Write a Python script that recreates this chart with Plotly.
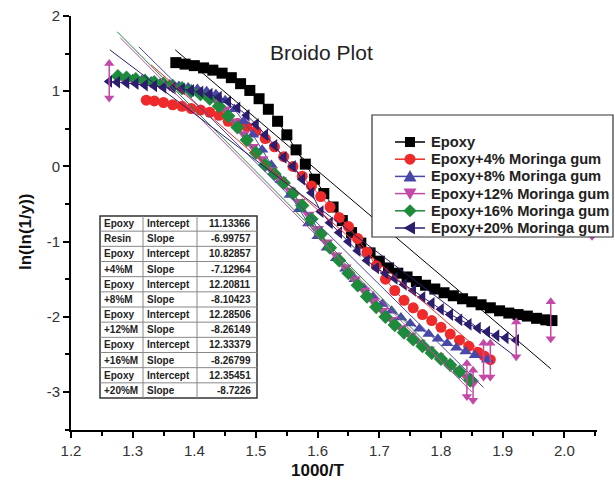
import plotly.graph_objects as go

# ---------------- data ----------------
series_names = ["Epoxy", "Epoxy+4% Moringa gum", "Epoxy+8% Moringa gum",
                "Epoxy+12% Moringa gum", "Epoxy+16% Moringa gum", "Epoxy+20% Moringa gum"]
series_colors = ["#000000", "#ee2a2a", "#4848a8", "#c448a8", "#1e8a3c", "#2c1e6e"]
series_symbols = ["square", "circle", "triangle-up", "triangle-down", "diamond", "triangle-left"]

epoxy_x = [1.370, 1.385, 1.400, 1.415, 1.430, 1.445, 1.460, 1.475, 1.490, 1.505, 1.520, 1.535,
           1.550, 1.565, 1.580, 1.595, 1.610, 1.625, 1.640, 1.655, 1.670, 1.685, 1.700, 1.715,
           1.730, 1.745, 1.760, 1.775, 1.790, 1.805, 1.820, 1.835, 1.850, 1.865, 1.880, 1.895,
           1.910, 1.925, 1.940, 1.955, 1.970, 1.980]
epoxy_y = [1.38, 1.36, 1.34, 1.31, 1.28, 1.24, 1.18, 1.10, 1.01, 0.90, 0.76, 0.60,
           0.42, 0.22, 0.03, -0.17, -0.36, -0.54, -0.72, -0.88, -1.02, -1.15, -1.26, -1.35,
           -1.42, -1.47, -1.53, -1.58, -1.63, -1.68, -1.72, -1.76, -1.80, -1.84, -1.88, -1.92,
           -1.95, -1.97, -1.99, -2.02, -2.04, -2.05]

m4_x = [1.322, 1.335, 1.350, 1.365, 1.380, 1.395, 1.410, 1.425, 1.440, 1.455, 1.470, 1.485,
        1.500, 1.515, 1.530, 1.545, 1.560, 1.575, 1.590, 1.605, 1.620, 1.635, 1.650, 1.665,
        1.680, 1.695, 1.710, 1.725, 1.740, 1.755, 1.770, 1.785, 1.800, 1.815, 1.830, 1.845,
        1.860, 1.870, 1.880]
m4_y = [0.88, 0.87, 0.85, 0.82, 0.80, 0.77, 0.75, 0.72, 0.68, 0.60, 0.57, 0.53,
        0.47, 0.37, 0.26, 0.13, 0.00, -0.13, -0.26, -0.40, -0.54, -0.68, -0.80, -0.96,
        -1.14, -1.32, -1.50, -1.65, -1.78, -1.88, -1.97, -2.05, -2.14, -2.23, -2.31, -2.39,
        -2.47, -2.52, -2.57]

m8_x = [1.300, 1.315, 1.330, 1.345, 1.360, 1.375, 1.390, 1.405, 1.420, 1.435, 1.450, 1.465,
        1.480, 1.495, 1.510, 1.525, 1.540, 1.555, 1.570, 1.585, 1.600, 1.615, 1.630, 1.645,
        1.660, 1.675, 1.690, 1.705, 1.720, 1.735, 1.750, 1.765, 1.780, 1.795, 1.810, 1.825,
        1.840, 1.855, 1.875]
m8_y = [1.16, 1.15, 1.13, 1.11, 1.09, 1.07, 1.05, 1.03, 1.00, 0.96, 0.88, 0.76,
        0.60, 0.42, 0.22, 0.02, -0.18, -0.38, -0.57, -0.76, -0.93, -1.08, -1.22, -1.36,
        -1.50, -1.62, -1.73, -1.83, -1.92, -2.01, -2.09, -2.16, -2.23, -2.29, -2.35, -2.41,
        -2.46, -2.51, -2.57]

m12_x = [1.285, 1.300, 1.315, 1.330, 1.345, 1.360, 1.375, 1.390, 1.405, 1.420, 1.435, 1.450,
         1.465, 1.480, 1.495, 1.510, 1.525, 1.540, 1.555, 1.570, 1.585, 1.600, 1.615, 1.630,
         1.645, 1.660, 1.675, 1.690, 1.705, 1.720, 1.735, 1.750, 1.765, 1.780, 1.795, 1.810,
         1.825, 1.840, 1.852]
m12_y = [1.17, 1.15, 1.13, 1.11, 1.09, 1.07, 1.05, 1.02, 0.99, 0.95, 0.88, 0.76,
         0.60, 0.43, 0.26, 0.10, -0.05, -0.18, -0.32, -0.47, -0.64, -0.83, -1.01, -1.18,
         -1.34, -1.50, -1.65, -1.79, -1.92, -2.04, -2.15, -2.25, -2.34, -2.43, -2.52, -2.61,
         -2.70, -2.79, -2.88]

m16_x = [1.276, 1.290, 1.305, 1.320, 1.335, 1.350, 1.365, 1.380, 1.395, 1.410, 1.425, 1.440,
         1.455, 1.470, 1.485, 1.500, 1.515, 1.530, 1.545, 1.560, 1.575, 1.590, 1.605, 1.620,
         1.635, 1.650, 1.665, 1.680, 1.695, 1.710, 1.725, 1.740, 1.755, 1.770, 1.785, 1.800,
         1.815, 1.830, 1.848]
m16_y = [1.20, 1.18, 1.16, 1.14, 1.12, 1.10, 1.07, 1.04, 1.00, 0.96, 0.90, 0.80,
         0.67, 0.52, 0.35, 0.18, 0.02, -0.10, -0.22, -0.36, -0.52, -0.70, -0.90, -1.08,
         -1.25, -1.42, -1.58, -1.73, -1.87, -2.00, -2.11, -2.21, -2.30, -2.39, -2.48, -2.56,
         -2.64, -2.73, -2.84]

m20_x = [1.262, 1.275, 1.290, 1.305, 1.320, 1.335, 1.350, 1.365, 1.380, 1.395, 1.410, 1.425,
         1.440, 1.455, 1.470, 1.485, 1.500, 1.515, 1.530, 1.545, 1.560, 1.575, 1.590, 1.605,
         1.620, 1.635, 1.650, 1.665, 1.680, 1.695, 1.710, 1.725, 1.740, 1.755, 1.770, 1.785,
         1.800, 1.815, 1.830, 1.845, 1.860, 1.875, 1.890, 1.905, 1.922]
m20_y = [1.13, 1.12, 1.11, 1.10, 1.08, 1.07, 1.05, 1.04, 1.03, 1.01, 0.99, 0.96,
         0.92, 0.86, 0.78, 0.68, 0.56, 0.42, 0.28, 0.12, 0.00, -0.17, -0.35, -0.60,
         -0.75, -0.88, -1.00, -1.12, -1.25, -1.35, -1.42, -1.49, -1.57, -1.65, -1.74, -1.82,
         -1.90, -1.97, -2.04, -2.10, -2.15, -2.20, -2.25, -2.28, -2.31]

series_x = [epoxy_x, m4_x, m8_x, m12_x, m16_x, m20_x]
series_y = [epoxy_y, m4_y, m8_y, m12_y, m16_y, m20_y]

# linear fit lines (end points)
fit_x0 = [1.369, 1.330, 1.310, 1.280, 1.275, 1.263]
fit_y0 = [1.55, 1.35, 1.59, 1.71, 1.79, 1.55]
fit_x1 = [1.978, 1.860, 1.869, 1.850, 1.848, 1.921]
fit_y1 = [-2.69, -2.43, -2.94, -3.00, -2.94, -2.53]

# pink double-headed markers
arrow_x = [1.262, 1.978, 1.922, 1.869, 1.880, 1.842, 1.852, 2.045]
arrow_top = [1.37, -1.80, -2.07, -2.35, -2.35, -2.62, -2.71, -0.50]
arrow_bottom = [0.91, -2.29, -2.53, -2.80, -2.80, -3.06, -3.11, -0.93]

# table
table_col1 = ["Epoxy", "Resin", "Epoxy", "+4%M", "Epoxy", "+8%M", "Epoxy", "+12%M",
              "Epoxy", "+16%M", "Epoxy", "+20%M"]
table_col2 = ["Intercept", "Slope"] * 6
table_col3 = ["11.13366", "-6.99757", "10.82857", "-7.12964", "12.20811", "-8.10423",
              "12.28506", "-8.26149", "12.33379", "-8.26799", "12.35451", "-8.7226"]

x_ticks = [1.2, 1.3, 1.4, 1.5, 1.6, 1.7, 1.8, 1.9, 2.0]
x_ticklabels = ["1.2", "1.3", "1.4", "1.5", "1.6", "1.7", "1.8", "1.9", "2.0"]
y_ticks = [-3, -2, -1, 0, 1, 2]
y_ticklabels = ["-3", "-2", "-1", "0", "1", "2"]

FONT = "Liberation Sans, Arial, sans-serif"

# ---------------- figure ----------------
fig = go.Figure()

for name, xs, ys, col, sym in zip(series_names, series_x, series_y, series_colors, series_symbols):
    fig.add_trace(go.Scatter(
        x=xs, y=ys, name=name, mode="lines+markers", showlegend=False,
        line=dict(color=col, width=1),
        marker=dict(symbol=sym, size=11, color=col, line=dict(width=0)),
    ))

for x0, y0, x1, y1, col in zip(fit_x0, fit_y0, fit_x1, fit_y1, series_colors):
    fig.add_trace(go.Scatter(
        x=[x0, x1], y=[y0, y1], mode="lines", showlegend=False,
        line=dict(color=col, width=1), hoverinfo="skip",
    ))

pink = "#c448a8"
ax, ay = [], []
for x, t, b in zip(arrow_x, arrow_top, arrow_bottom):
    ax += [x, x, None]
    ay += [t, b, None]
fig.add_trace(go.Scatter(x=ax, y=ay, mode="lines", showlegend=False,
                         line=dict(color=pink, width=1.5), hoverinfo="skip"))
fig.add_trace(go.Scatter(x=arrow_x, y=arrow_top, mode="markers", showlegend=False,
                         marker=dict(symbol="triangle-up", size=9, color=pink), hoverinfo="skip"))
fig.add_trace(go.Scatter(x=arrow_x, y=arrow_bottom, mode="markers", showlegend=False,
                         marker=dict(symbol="triangle-down", size=9, color=pink), hoverinfo="skip"))

# plot area in page pixels (the page margin is removed below)
PL, PR, PT, PB = 71, 597, 16, 430
FIG_W, FIG_H = 615, 493
def px_x(p):
    return (p - PL) / (PR - PL)
def px_y(p):
    return (PB - p) / (PB - PT)
def pt(xp, yp):
    return f"{px_x(xp):.5f},{px_y(yp):.5f}"

shapes = []
annotations = []

# legend box (opaque) with drawn entries
shapes.append(dict(type="rect", xref="paper", yref="paper",
                   x0=px_x(372), x1=px_x(613), y0=px_y(237), y1=px_y(115),
                   fillcolor="white", line=dict(color="#333333", width=1.2), layer="above"))
LEG_Y0, LEG_DY = 142, 17.2
for i, (name, col, sym) in enumerate(zip(series_names, series_colors, series_symbols)):
    cy = LEG_Y0 + i * LEG_DY
    cx = 410
    shapes.append(dict(type="line", xref="paper", yref="paper",
                       x0=px_x(395), x1=px_x(425), y0=px_y(cy), y1=px_y(cy),
                       line=dict(color=col, width=1.5), layer="above"))
    if sym == "circle":
        shapes.append(dict(type="circle", xref="paper", yref="paper",
                           x0=px_x(cx - 5.5), x1=px_x(cx + 5.5), y0=px_y(cy + 5.5), y1=px_y(cy - 5.5),
                           fillcolor=col, line=dict(width=0), layer="above"))
    else:
        if sym == "square":
            pts = [(cx - 5, cy - 5), (cx + 5, cy - 5), (cx + 5, cy + 5), (cx - 5, cy + 5)]
        elif sym == "triangle-up":
            pts = [(cx, cy - 6.5), (cx + 6.5, cy + 5), (cx - 6.5, cy + 5)]
        elif sym == "triangle-down":
            pts = [(cx, cy + 6.5), (cx + 6.5, cy - 5), (cx - 6.5, cy - 5)]
        elif sym == "diamond":
            pts = [(cx, cy - 6.5), (cx + 6.5, cy), (cx, cy + 6.5), (cx - 6.5, cy)]
        else:  # triangle-left
            pts = [(cx - 6.5, cy), (cx + 5, cy - 6.5), (cx + 5, cy + 6.5)]
        path = "M" + " L".join(pt(a, b) for a, b in pts) + " Z"
        shapes.append(dict(type="path", xref="paper", yref="paper", path=path,
                           fillcolor=col, line=dict(width=0), layer="above"))
    annotations.append(dict(x=px_x(429), y=px_y(cy), xref="paper", yref="paper", text=name,
                            showarrow=False, xanchor="left", yanchor="middle",
                            font=dict(family=FONT, size=14.7, color="#222222", weight="bold")))

# table
tx0, tx1, tc1, tc2 = 100, 257, 143, 197
ty0, ty1 = 216, 398
nrows = len(table_col1)
rh = (ty1 - ty0) / nrows
shapes.append(dict(type="rect", xref="paper", yref="paper",
                   x0=px_x(tx0), x1=px_x(tx1), y0=px_y(ty1), y1=px_y(ty0),
                   fillcolor="white", line=dict(color="#333333", width=1.5), layer="above"))
for i in range(1, nrows):
    yy = px_y(ty0 + i * rh)
    shapes.append(dict(type="line", xref="paper", yref="paper",
                       x0=px_x(tx0), x1=px_x(tx1), y0=yy, y1=yy,
                       line=dict(color="#888888", width=1), layer="above"))
for cx in (tc1, tc2):
    shapes.append(dict(type="line", xref="paper", yref="paper",
                       x0=px_x(cx), x1=px_x(cx), y0=px_y(ty1), y1=px_y(ty0),
                       line=dict(color="#888888", width=1), layer="above"))
for i, (a, b, c) in enumerate(zip(table_col1, table_col2, table_col3)):
    yc = px_y(ty0 + (i + 0.5) * rh)
    tf = dict(family=FONT, size=10, color="#222222", weight="bold")
    annotations.append(dict(x=px_x(tx0 + 2), y=yc, xref="paper", yref="paper", text=a,
                            showarrow=False, xanchor="left", yanchor="middle", font=tf))
    annotations.append(dict(x=px_x(tc1 + 2), y=yc, xref="paper", yref="paper", text=b,
                            showarrow=False, xanchor="left", yanchor="middle", font=tf))
    annotations.append(dict(x=px_x(tx1 - 4), y=yc, xref="paper", yref="paper", text=c,
                            showarrow=False, xanchor="right", yanchor="middle", font=tf))

# titles
annotations.append(dict(x=px_x(321), y=px_y(53), xref="paper", yref="paper", text="Broido Plot",
                        showarrow=False, xanchor="center", yanchor="middle",
                        font=dict(family=FONT, size=21, color="#222222")))
annotations.append(dict(x=px_x(318), y=px_y(470), xref="paper", yref="paper", text="1000/T",
                        showarrow=False, xanchor="center", yanchor="middle",
                        font=dict(family=FONT, size=17, color="#111111", weight="bold")))
annotations.append(dict(x=px_x(25), y=px_y(232), xref="paper", yref="paper", text="ln(ln(1/y))",
                        showarrow=False, xanchor="center", yanchor="middle", textangle=-90,
                        font=dict(family=FONT, size=17, color="#111111", weight="bold")))

axis_common = dict(showgrid=False, zeroline=False, showline=True, linecolor="black",
                   linewidth=2, ticks="outside", ticklen=6, tickwidth=1.5, tickcolor="black",
                   mirror=False, tickfont=dict(family=FONT, size=15, color="#333333"))

fig.update_layout(
    width=FIG_W, height=FIG_H,
    margin=dict(l=PL, r=FIG_W - PR, t=PT, b=FIG_H - PB, autoexpand=False),
    paper_bgcolor="white", plot_bgcolor="white",
    xaxis=dict(range=[1.2, 2.053], tickmode="array", tickvals=x_ticks, ticktext=x_ticklabels,
               minor=dict(dtick=0.05, tick0=1.2, ticks="outside", ticklen=4, tickwidth=1.5,
                          tickcolor="black"),
               **axis_common),
    yaxis=dict(range=[-3.505, 2.0], tickmode="array", tickvals=y_ticks, ticktext=y_ticklabels,
               minor=dict(dtick=0.5, tick0=0, ticks="outside", ticklen=4, tickwidth=1.5,
                          tickcolor="black"),
               **axis_common),
    shapes=shapes,
    annotations=annotations,
    showlegend=False,
)

# remove the browser's default page margin so the figure sits at the window's corner
fig.write_html("out.html",
               config={"displayModeBar": False},
               post_script="document.body.style.margin='0';"
                           "document.body.style.overflow='hidden';")
